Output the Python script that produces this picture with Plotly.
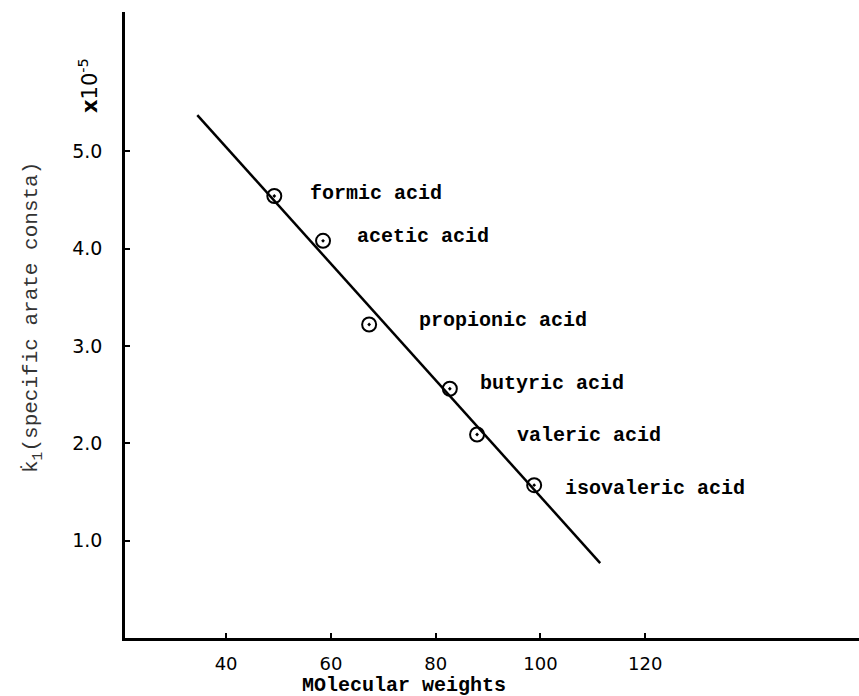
import plotly.graph_objects as go

# Data
acids = ["formic acid", "acetic acid", "propionic acid", "butyric acid", "valeric acid", "isovaleric acid"]
mol_weight = [49.2, 58.5, 67.3, 82.7, 87.9, 98.8]
rate_const = [4.54, 4.08, 3.22, 2.56, 2.09, 1.57]

fit_x = [34.5, 111.4]
fit_y = [5.37, 0.77]

x_ticks = [40, 60, 80, 100, 120]
x_tick_text = ["40", "60", "80", "100", "120"]
y_ticks = [1, 2, 3, 4, 5]
y_tick_text = ["1.0", "2.0", "3.0", "4.0", "5.0"]

# label offsets in pixels (style / placement)
label_dx = [34, 32, 48, 28, 38, 29]
label_dy = [3, 4, 4, 5, -1, -3]

mono = "Liberation Mono"

W, H = 859, 696
ML, MR, MT, MB = 125, 0, 12, 58
PW, PH = W - ML - MR, H - MT - MB


def px(xpage):
    return (xpage - ML) / PW


def py(ypage):
    return 1 - (ypage - MT) / PH


fig = go.Figure()
fig.add_trace(go.Scatter(x=fit_x, y=fit_y, mode="lines",
                         line=dict(color="black", width=2.5), showlegend=False))
fig.add_trace(go.Scatter(x=mol_weight, y=rate_const, mode="markers",
                         marker=dict(symbol="circle-open-dot", size=14, color="black",
                                     line=dict(width=2, color="black")),
                         showlegend=False))

for name, x, y, dx, dy in zip(acids, mol_weight, rate_const, label_dx, label_dy):
    fig.add_annotation(x=x, y=y, text=name, showarrow=False, xanchor="left",
                       yanchor="middle", xshift=dx, yshift=dy,
                       font=dict(family=mono, size=20, color="black", weight="bold"))

fig.add_annotation(xref="paper", yref="paper", x=px(404), y=py(685),
                   xanchor="center", yanchor="middle",
                   text="MOlecular weights", showarrow=False,
                   font=dict(family=mono, size=20, color="black", weight="bold"))
fig.add_annotation(xref="paper", yref="paper", x=px(33), y=py(318),
                   xanchor="center", yanchor="middle",
                   text="k\u0307<sub>1</sub>(specific arate consta)", textangle=-90,
                   showarrow=False, font=dict(family=mono, size=21, color="#333333"))
fig.add_annotation(xref="paper", yref="paper", x=px(88), y=py(86),
                   xanchor="center", yanchor="middle",
                   text="<b>x</b>10<sup>-5</sup>", textangle=-90,
                   showarrow=False, font=dict(family="DejaVu Sans", size=21, color="black"))

fig.update_xaxes(range=[20.7, 160.8], showline=True, linecolor="black", linewidth=2.5,
                 showgrid=False, zeroline=False, ticks="inside", ticklen=5, tickwidth=2,
                 tickcolor="black", tickvals=x_ticks, ticktext=x_tick_text,
                 ticklabelstandoff=8,
                 tickfont=dict(family="DejaVu Sans", size=18, color="black"))
fig.update_yaxes(range=[0, 6.43], showline=True, linecolor="black", linewidth=2.5,
                 showgrid=False, zeroline=False, ticks="inside", ticklen=5, tickwidth=2,
                 tickcolor="black", tickvals=y_ticks, ticktext=y_tick_text,
                 ticklabelstandoff=16,
                 tickfont=dict(family="DejaVu Sans", size=19, color="black"))

fig.update_layout(width=W, height=H, margin=dict(l=ML, r=MR, t=MT, b=MB, autoexpand=False),
                  plot_bgcolor="white", paper_bgcolor="white")

fig.write_html("out.html", config={"displayModeBar": False},
               post_script="document.body.style.margin='0';document.body.style.overflow='hidden';")
